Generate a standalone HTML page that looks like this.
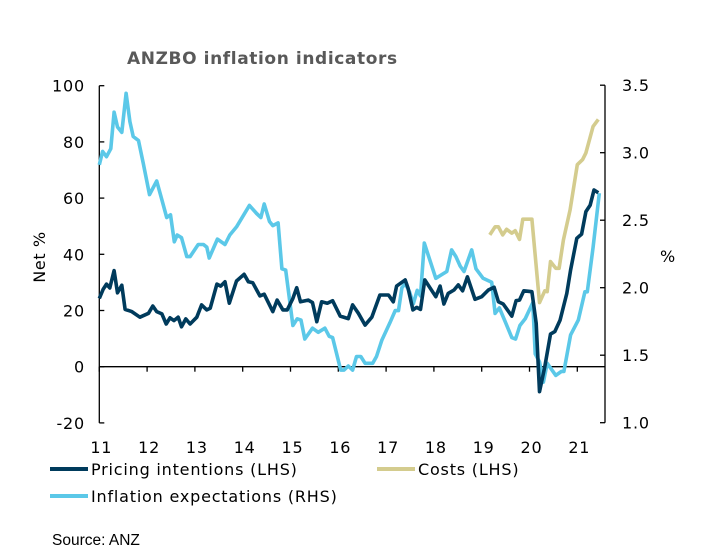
<!DOCTYPE html>
<html><head><meta charset="utf-8"><style>
html,body{margin:0;padding:0;background:#fff;width:722px;height:560px;overflow:hidden}
svg text{font-family:"DejaVu Sans","Liberation Sans",sans-serif;fill:#000}
</style></head><body>
<svg id="chart" width="722" height="560" xmlns="http://www.w3.org/2000/svg">
<text x="127" y="64" font-size="17" font-weight="bold" letter-spacing="0.6" style="fill:#595959">ANZBO inflation indicators</text>
<text transform="translate(45,257) rotate(-90)" text-anchor="middle" font-size="16" letter-spacing="0.6">Net %</text>
<text x="660" y="262" font-size="16">%</text>
<g id="axes"></g>
<g id="series"></g>
<g>
<line x1="50" y1="469" x2="88" y2="469" stroke="#003B5C" stroke-width="4"/>
<text x="91" y="475" font-size="16" letter-spacing="0.8">Pricing intentions (LHS)</text>
<line x1="377" y1="469" x2="415" y2="469" stroke="#D4CC8E" stroke-width="4"/>
<text x="418" y="475" font-size="16" letter-spacing="0.8">Costs (LHS)</text>
<line x1="50" y1="496" x2="88" y2="496" stroke="#5BC8E8" stroke-width="4"/>
<text x="91" y="502" font-size="16" letter-spacing="0.8">Inflation expectations (RHS)</text>
</g>
<text x="52" y="545" font-size="15.5" style="font-family:'Liberation Sans',sans-serif">Source: ANZ</text>
</svg>
<script>
const leftTicks=[100,80,60,40,20,0,-20];
const rightTicks=["3.5","3.0","2.5","2.0","1.5","1.0"];
const xTickLabels=["11","12","13","14","15","16","17","18","19","20","21"];
const pricingT=[0,.08,.15,.22,.31,.38,.47,.54,.68,.85,1.03,1.12,1.20,1.31,1.40,1.48,1.56,1.65,1.72,1.81,1.90,2.04,2.14,2.25,2.32,2.46,2.54,2.63,2.72,2.87,3.03,3.12,3.21,3.36,3.45,3.63,3.72,3.84,3.93,4.05,4.13,4.21,4.37,4.46,4.55,4.65,4.77,4.88,5.04,5.21,5.30,5.42,5.56,5.70,5.87,6.05,6.15,6.22,6.40,6.46,6.56,6.64,6.72,6.81,7.04,7.13,7.21,7.30,7.42,7.51,7.60,7.70,7.86,8.00,8.14,8.26,8.35,8.45,8.63,8.72,8.79,8.88,9.05,9.14,9.21,9.32,9.44,9.53,9.64,9.78,9.86,9.99,10.09,10.18,10.27,10.35,10.44];
const pricingV=[24.3,27.5,29.4,28,34.2,26.3,29,20.4,19.6,17.6,19,21.6,19.6,18.8,15.2,17.4,16.4,17.6,14.2,17,15.2,17.6,22,20.2,20.8,29.4,28.7,30.2,22.6,30.5,32.9,30.2,29.9,25.2,25.8,19.6,23.7,20.2,20.2,24.3,28.1,23.1,23.7,22.8,16,23.1,22.6,23.5,18,17.1,22,19,14.8,17.6,25.5,25.5,23.1,28.7,30.9,27.9,20.2,21.1,20.4,30.9,24.9,28.7,22.3,26.1,27.3,29.1,27,32,24,24.9,27.3,28.3,23.1,22.3,18,23.5,23.7,27,26.7,15.4,-8.9,0,11.6,12.5,16.6,26.1,34.4,45.7,47.2,55.2,57.5,62.9,61.9];
const costsT=[8.17,8.28,8.35,8.44,8.52,8.63,8.70,8.79,8.86,9.05,9.21,9.32,9.37,9.44,9.55,9.62,9.71,9.85,10.00,10.11,10.18,10.33,10.44];
const costsV=[46.9,49.8,49.8,46.9,48.9,47.5,48.4,45.3,52.5,52.5,22.8,27,26.7,37.4,35,35,45.1,55.8,71.9,73.7,76.1,85.5,88];
const inflT=[0,.07,.15,.24,.31,.38,.47,.56,.64,.71,.82,.92,1.05,1.20,1.31,1.41,1.49,1.57,1.63,1.72,1.83,1.90,2.07,2.18,2.25,2.30,2.47,2.63,2.73,2.87,3.14,3.29,3.38,3.45,3.56,3.63,3.74,3.82,3.90,4.05,4.14,4.22,4.30,4.46,4.58,4.72,4.81,4.88,5.05,5.12,5.21,5.30,5.38,5.47,5.56,5.72,5.80,5.91,6.08,6.19,6.26,6.33,6.40,6.49,6.57,6.65,6.72,6.80,7.04,7.13,7.27,7.37,7.46,7.55,7.63,7.79,7.88,8.03,8.21,8.28,8.37,8.49,8.63,8.71,8.80,8.91,9.07,9.12,9.21,9.29,9.37,9.55,9.67,9.72,9.86,10.02,10.16,10.21,10.33,10.46];
const inflV=[2.91,3.01,2.97,3.03,3.30,3.19,3.15,3.44,3.23,3.12,3.09,2.92,2.69,2.79,2.65,2.52,2.54,2.34,2.39,2.37,2.23,2.23,2.32,2.32,2.30,2.22,2.36,2.32,2.39,2.45,2.61,2.55,2.52,2.62,2.49,2.46,2.48,2.14,2.13,1.72,1.77,1.76,1.62,1.70,1.67,1.70,1.64,1.63,1.39,1.39,1.42,1.39,1.49,1.49,1.44,1.44,1.49,1.61,1.74,1.83,1.83,2.00,2.03,1.97,1.88,1.98,1.94,2.33,2.07,2.09,2.12,2.28,2.23,2.16,2.12,2.28,2.14,2.07,2.04,1.81,1.85,1.75,1.63,1.62,1.72,1.77,1.89,1.51,1.45,1.30,1.44,1.35,1.38,1.38,1.65,1.76,1.97,1.97,2.30,2.70];

const NS="http://www.w3.org/2000/svg";
const X0=99.3,XW=47.8,Y0=366.7,YL=2.81,YR=135,YR3=152.7;
const xs=t=>X0+t*XW;
const yl=v=>Y0-v*YL;
const yr=v=>YR3-(v-3)*YR;
function mk(tag,attrs,parent){const e=document.createElementNS(NS,tag);for(const k in attrs)e.setAttribute(k,attrs[k]);parent.appendChild(e);return e;}
const ax=document.getElementById('axes');
const la=mk('line',{x1:X0,y1:yl(100),x2:X0,y2:yl(-20),stroke:'#000','stroke-width':1.3},ax);


const ra=mk('line',{x1:605,y1:yr(3.5),x2:605,y2:yr(1.0),stroke:'#000','stroke-width':1.3},ax);


const za=mk('line',{x1:X0,y1:Y0,x2:605,y2:Y0,stroke:'#000','stroke-width':1.3},ax);


leftTicks.forEach(v=>{
  const tk=mk('line',{x1:X0,y1:yl(v),x2:X0+5,y2:yl(v),stroke:'#000','stroke-width':1.3},ax);
  
  
  const t=mk('text',{x:85,y:yl(v)+6,'text-anchor':'end','font-size':16,'letter-spacing':0.8},ax);t.textContent=v;
  
  
});
rightTicks.forEach(s=>{
  const v=parseFloat(s);
  const tk=mk('line',{x1:600,y1:yr(v),x2:605,y2:yr(v),stroke:'#000','stroke-width':1.3},ax);
  
  
  const t=mk('text',{x:622,y:yr(v)+6,'font-size':16,'letter-spacing':0.8},ax);t.textContent=s;
  
  
});
xTickLabels.forEach((s,i)=>{
  const tk=mk('line',{x1:xs(i),y1:Y0,x2:xs(i),y2:Y0+5,stroke:'#000','stroke-width':1.3},ax);
  
  
  const t=mk('text',{x:xs(i)+2,y:453,'text-anchor':'middle','font-size':16,'letter-spacing':0.8},ax);t.textContent=s;
  
  
});
const sg=document.getElementById('series');
function line(T,V,yf,color,name){
  const d=T.map((t,i)=>(i?'L':'M')+xs(t).toFixed(1)+','+yf(V[i]).toFixed(1)).join('');
  const p=mk('path',{d:d,fill:'none',stroke:color,'stroke-width':3.6,'stroke-linejoin':'round'},sg);
  
  
}
line(costsT,costsV,yl,'#D4CC8E','costs-line');
line(inflT,inflV,yr,'#5BC8E8','inflation-expectations-line');
line(pricingT,pricingV,yl,'#003B5C','pricing-intentions-line');
</script>
</body></html>
